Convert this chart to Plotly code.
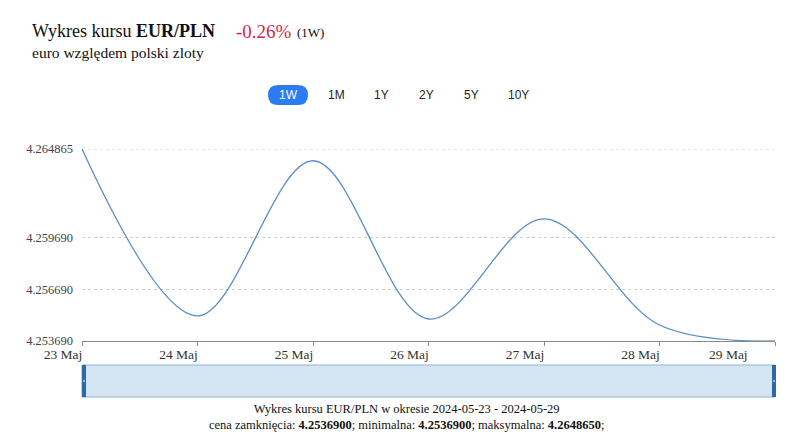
import plotly.graph_objects as go

# ---- data ----
dates = ["2024-05-23", "2024-05-24", "2024-05-25", "2024-05-26",
         "2024-05-27", "2024-05-28", "2024-05-29"]
rates = [4.264865, 4.25515, 4.26418, 4.25497, 4.26080, 4.25462, 4.253690]
x_tick_labels = ["23 Maj", "24 Maj", "25 Maj", "26 Maj", "27 Maj", "28 Maj", "29 Maj"]
y_tick_vals = [4.253690, 4.256690, 4.259690, 4.264865]
y_tick_labels = ["4.253690", "4.256690", "4.259690", "4.264865"]
range_buttons = ["1W", "1M", "1Y", "2Y", "5Y", "10Y"]
title_main = "Wykres kursu <b>EUR/PLN</b>"
title_change = "-0.26%"
title_period = "(1W)"
subtitle = "euro względem polski zloty"
footer_line1 = "Wykres kursu EUR/PLN w okresie 2024-05-23 - 2024-05-29"
footer_line2 = ("cena zamknięcia: <b>4.2536900</b>; minimalna: <b>4.2536900</b>; "
                "maksymalna: <b>4.2648650</b>;")

# ---- layout geometry (screen pixels; page body has 8px margin) ----
OFF = 8
W, H = 800 - OFF, 441 - OFF
SL, SR, ST, SB = 82, 775, 149, 341          # plot area on screen
L, T = SL - OFF, ST - OFF
R, B = W - (SR - OFF), H - (SB - OFF)
PW, PH = W - L - R, H - T - B


def px(x):
    return (x - SL) / PW


def py(y):
    return (SB - y) / PH


SERIF = "Liberation Serif"
SANS = "Liberation Sans"
GRID = "#cfcfcf"

fig = go.Figure()
fig.add_trace(go.Scatter(
    x=dates, y=rates, mode="lines",
    line=dict(color="#5b8ec6", width=1.3, shape="spline", smoothing=1.0),
    hoverinfo="x+y", showlegend=False, cliponaxis=False,
))

annotations = []
shapes = []

# top gridline (plotly skips gridlines on the plot edge)
shapes.append(dict(type="line", xref="paper", yref="y", x0=0, x1=1,
                   y0=y_tick_vals[-1], y1=y_tick_vals[-1], layer="below",
                   line=dict(color=GRID, width=1, dash="3px,3px")))

# title
annotations.append(dict(text=title_main, x=px(30), y=py(31), xref="paper", yref="paper",
                        xanchor="left", yanchor="middle", showarrow=False,
                        font=dict(family=SERIF, size=18, color="#111")))
annotations.append(dict(text=title_change, x=px(234), y=py(31), xref="paper", yref="paper",
                        xanchor="left", yanchor="middle", showarrow=False,
                        font=dict(family=SERIF, size=19, color="#d81f4c")))
annotations.append(dict(text=title_period, x=px(295), y=py(33), xref="paper", yref="paper",
                        xanchor="left", yanchor="middle", showarrow=False,
                        font=dict(family=SERIF, size=13, color="#111")))
annotations.append(dict(text=subtitle, x=px(30), y=py(52), xref="paper", yref="paper",
                        xanchor="left", yanchor="middle", showarrow=False,
                        font=dict(family=SERIF, size=15.5, color="#111")))

# range buttons
btn_x = [288, 336, 381, 426, 471, 518]
for i, (lbl, bx) in enumerate(zip(range_buttons, btn_x)):
    active = i == 0
    if active:
        x0, x1, y0, y1, r = 268, 308, 85, 105, 10
        path = (f"M {px(x0 + r)} {py(y0)} L {px(x1 - r)} {py(y0)} "
                f"Q {px(x1)} {py(y0)} {px(x1)} {py(y0 + r)} "
                f"Q {px(x1)} {py(y1)} {px(x1 - r)} {py(y1)} "
                f"L {px(x0 + r)} {py(y1)} "
                f"Q {px(x0)} {py(y1)} {px(x0)} {py(y0 + r)} "
                f"Q {px(x0)} {py(y0)} {px(x0 + r)} {py(y0)} Z")
        shapes.append(dict(type="path", path=path, xref="paper", yref="paper",
                           fillcolor="#2b7bf3", line=dict(width=0), layer="above"))
    annotations.append(dict(text=lbl, x=px(bx), y=py(95), xref="paper", yref="paper",
                            xanchor="center", yanchor="middle", showarrow=False,
                            font=dict(family=SANS, size=12,
                                      color="#ffffff" if active else "#222")))

# navigator
shapes.append(dict(type="rect", xref="paper", yref="paper",
                   x0=px(82), x1=px(775), y0=py(397), y1=py(365),
                   fillcolor="#d4e4f0", line=dict(color="#8db3d6", width=1)))
for hx in (82, 772):
    shapes.append(dict(type="rect", xref="paper", yref="paper",
                       x0=px(hx), x1=px(hx + 4), y0=py(397), y1=py(365),
                       fillcolor="#2d6aa8", line=dict(width=0)))
    shapes.append(dict(type="rect", xref="paper", yref="paper",
                       x0=px(hx + 1.5), x1=px(hx + 2.5), y0=py(382), y1=py(380),
                       fillcolor="#ffffff", line=dict(width=0)))

# footer
annotations.append(dict(text=footer_line1 + "<br>" + footer_line2,
                        x=px(406), y=py(417), xref="paper", yref="paper",
                        xanchor="center", yanchor="middle", showarrow=False,
                        align="center",
                        font=dict(family=SERIF, size=12.5, color="#111")))

# last x tick label shifted inward
annotations.append(dict(text=x_tick_labels[-1], x=dates[-1], y=py(354), xref="x", yref="paper",
                        xanchor="center", yanchor="middle", showarrow=False, xshift=-47,
                        font=dict(family=SERIF, size=13.5, color="#333")))

fig.update_layout(
    width=W, height=H,
    margin=dict(l=L, r=R, t=T, b=B),
    paper_bgcolor="#ffffff", plot_bgcolor="#ffffff",
    annotations=annotations, shapes=shapes,
    xaxis=dict(
        type="date", range=[dates[0], dates[-1]],
        tickvals=dates, ticktext=x_tick_labels[:-1] + [""],
        showgrid=False, zeroline=False,
        showline=True, linecolor="#8a8a8a", linewidth=1,
        ticks="outside", ticklen=4, tickcolor="#8a8a8a",
        ticklabelshift=-19, ticklabelstandoff=-3,
        tickfont=dict(family=SERIF, size=13.5, color="#333"),
        fixedrange=True,
    ),
    yaxis=dict(
        range=[y_tick_vals[0], y_tick_vals[-1]],
        tickvals=y_tick_vals, ticktext=y_tick_labels,
        showgrid=True, gridcolor=GRID, griddash="3px,3px", gridwidth=1,
        zeroline=False, showline=False, ticks="",
        ticklabelstandoff=8,
        tickfont=dict(family=SERIF, size=12.5, color="#444"),
        fixedrange=True,
    ),
    hovermode="x",
)

fig.write_html("out.html")
